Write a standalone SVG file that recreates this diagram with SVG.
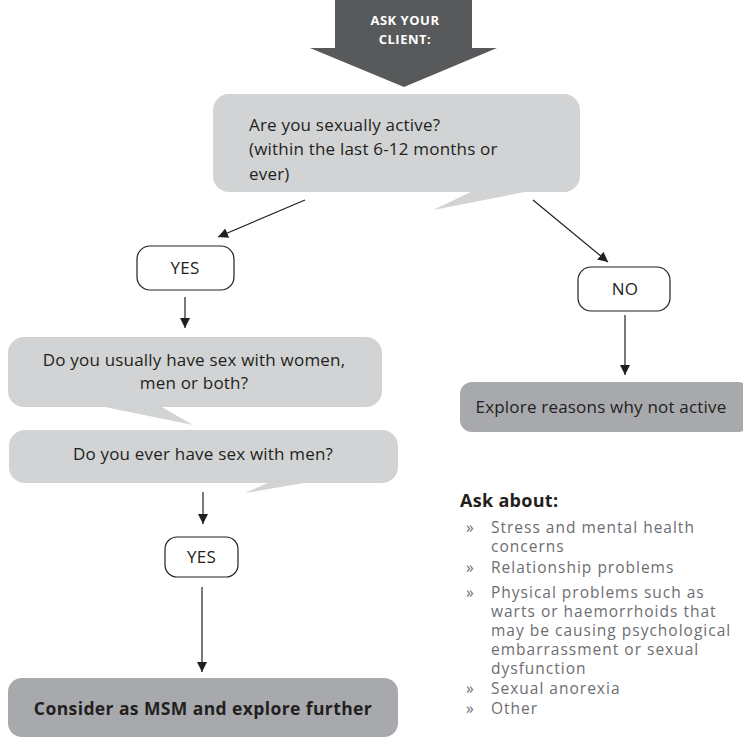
<svg xmlns="http://www.w3.org/2000/svg" width="743" height="737" viewBox="0 0 743 737">
<style>
.bub{fill:#d1d3d4}
.box{fill:#a7a9ac}
.yn{fill:#fff;stroke:#231f20;stroke-width:1.2}
.t{font-family:"Open Sans","Noto Sans",sans-serif;font-size:17px;letter-spacing:0.2px;fill:#231f20}
.tb{font-family:"Open Sans","Noto Sans",sans-serif;font-size:17.5px;letter-spacing:0.4px;font-weight:bold;fill:#231f20}
.li{font-family:"Open Sans","Noto Sans",sans-serif;font-size:15.5px;letter-spacing:1px;fill:#6d6e71}
.c{text-anchor:middle}
.ln{stroke:#231f20;stroke-width:1.2;fill:none}
.w{font-family:"Open Sans","Noto Sans",sans-serif;font-size:13px;letter-spacing:0.5px;font-weight:bold;fill:#fff;text-anchor:middle}
</style>
<defs>
<marker id="ah" viewBox="0 0 10 10" refX="10" refY="5" markerWidth="10" markerHeight="10" markerUnits="userSpaceOnUse" orient="auto">
<path d="M0,0 L10,5 L0,10 z" fill="#231f20"/>
</marker>
</defs>

<g id="ask">
<polygon points="335,0 472,0 472,48 497,48 404,87 310,48 335,48" fill="#58595b"/>
<text x="405" y="25" class="w">ASK YOUR</text>
<text x="405" y="44" class="w">CLIENT:</text>
</g>

<g id="q1">
<rect x="213" y="94" width="367" height="98" rx="16" class="bub"/>
<polygon points="473,191 433,210 530,191" class="bub"/>
<text x="249" y="131" class="t">Are you sexually active?</text>
<text x="249" y="155" class="t">(within the last 6-12 months or</text>
<text x="249" y="180" class="t">ever)</text>
</g>

<g id="yes1">
<rect x="137" y="246" width="97" height="44" rx="13" class="yn"/>
<text x="185" y="274" class="t c">YES</text>
</g>

<g id="no">
<rect x="578" y="267" width="92" height="44" rx="13" class="yn"/>
<text x="625" y="295" class="t c">NO</text>
</g>

<g id="q2">
<rect x="8" y="337" width="374" height="70" rx="16" class="bub"/>
<polygon points="100,406 193,425 160,406" class="bub"/>
<text x="194" y="366" class="t c">Do you usually have sex with women,</text>
<text x="194" y="389" class="t c">men or both?</text>
</g>

<g id="q3">
<rect x="9" y="430" width="389" height="53" rx="16" class="bub"/>
<polygon points="270,482 245,493 310,482" class="bub"/>
<text x="203" y="460" class="t c">Do you ever have sex with men?</text>
</g>

<g id="explore">
<rect x="460" y="382" width="290" height="50" rx="12" class="box"/>
<text x="601" y="413" class="t c">Explore reasons why not active</text>
</g>

<g id="yes2">
<rect x="165" y="537" width="73" height="40" rx="12" class="yn"/>
<text x="201.5" y="563" class="t c">YES</text>
</g>

<g id="msm">
<rect x="8" y="678" width="390" height="59" rx="14" class="box"/>
<text x="203" y="715" class="tb c">Consider as MSM and explore further</text>
</g>

<g id="askabout">
<text x="460" y="507" style="font-family:'Open Sans','Noto Sans',sans-serif;font-size:18px;letter-spacing:0.3px;font-weight:bold;fill:#231f20">Ask about:</text>
<g class="li">
<text x="466" y="533" style="letter-spacing:0">»</text><text x="491" y="533">Stress and mental health</text>
<text x="491" y="552">concerns</text>
<text x="466" y="573" style="letter-spacing:0">»</text><text x="491" y="573">Relationship problems</text>
<text x="466" y="598" style="letter-spacing:0">»</text><text x="491" y="598">Physical problems such as</text>
<text x="491" y="617">warts or haemorrhoids that</text>
<text x="491" y="636">may be causing psychological</text>
<text x="491" y="655">embarrassment or sexual</text>
<text x="491" y="674">dysfunction</text>
<text x="466" y="694" style="letter-spacing:0">»</text><text x="491" y="694">Sexual anorexia</text>
<text x="466" y="714" style="letter-spacing:0">»</text><text x="491" y="714">Other</text>
</g>
</g>

<g id="connectors">
<line x1="305" y1="200" x2="218" y2="237" class="ln" marker-end="url(#ah)"/>
<line x1="533" y1="200" x2="608" y2="262" class="ln" marker-end="url(#ah)"/>
<line x1="185" y1="297" x2="185" y2="328" class="ln" marker-end="url(#ah)"/>
<line x1="625" y1="315" x2="625" y2="375" class="ln" marker-end="url(#ah)"/>
<line x1="203" y1="492" x2="203" y2="524" class="ln" marker-end="url(#ah)"/>
<line x1="202" y1="587" x2="202" y2="672" class="ln" marker-end="url(#ah)"/>
</g>
</svg>
